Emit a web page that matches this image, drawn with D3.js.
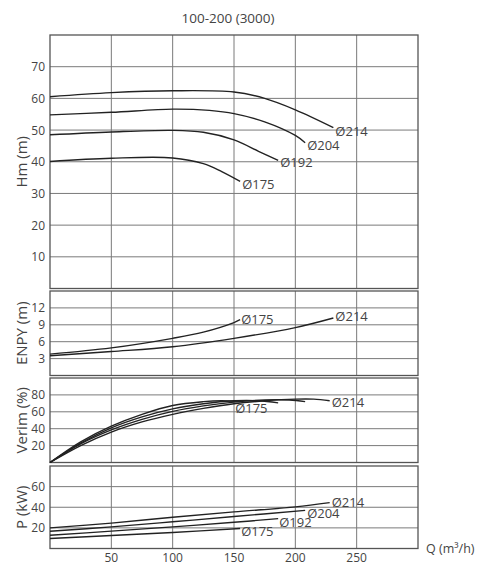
<!DOCTYPE html>
<html>
<head>
<meta charset="utf-8">
<script src="https://cdn.jsdelivr.net/npm/d3@7"></script>
<style>
    body { margin: 0; background: #fff; }
    text { font-family: "Open Sans", sans-serif; fill: #444; }
</style>
</head>
<body>
<div id="canvas"></div>
<script>
"use strict"

// flow axis
let qTicks = [50, 100, 150, 200, 250]

// head H (m) per impeller diameter, [Q, H]
let head214 = [[0, 60.5], [50, 61.8], [100, 62.4], [150, 62.0], [175, 60.0], [200, 56.4], [231, 50.8]]
let head204 = [[0, 54.8], [50, 55.6], [100, 56.6], [130, 56.2], [150, 55.2], [175, 52.6], [200, 48.3], [208, 46.0]]
let head192 = [[0, 48.5], [50, 49.4], [100, 49.9], [125, 49.3], [150, 46.9], [170, 43.3], [186, 40.4]]
let head175 = [[0, 40.1], [50, 41.1], [100, 41.2], [125, 39.4], [140, 36.9], [155, 33.8]]

// NPSH (m)
let enpy214 = [[0, 3.5], [50, 4.25], [100, 5.1], [150, 6.6], [200, 8.5], [231, 10.2]]
let enpy175 = [[0, 3.8], [50, 4.9], [100, 6.6], [125, 7.7], [150, 9.4], [155, 9.9]]

// efficiency (%)
let eff214 = [[0, 0], [25, 20], [50, 36], [75, 48], [100, 57], [125, 64], [150, 69.5], [175, 73], [200, 75], [215, 75], [228, 73]]
let eff204 = [[0, 0], [25, 22], [50, 38.5], [75, 51], [100, 60.5], [125, 67], [150, 71.5], [175, 74], [195, 74], [208, 72]]
let eff192 = [[0, 0], [25, 23], [50, 41], [75, 54], [100, 63.5], [125, 69.5], [150, 73], [170, 73], [186, 70.5]]
let eff175 = [[0, 0], [25, 24.5], [50, 43], [75, 57], [100, 67.5], [125, 72], [140, 73], [155, 72]]

// power (kW)
let pow214 = [[0, 20.0], [50, 24.6], [100, 30.3], [150, 35.5], [200, 40.4], [228, 44.5]]
let pow204 = [[0, 16.7], [50, 21.0], [100, 25.9], [150, 31.0], [208, 37.0]]
let pow192 = [[0, 12.9], [50, 16.8], [100, 21.0], [150, 25.4], [186, 29.0]]
let pow175 = [[0, 9.7], [50, 12.6], [100, 15.5], [155, 19.4]]

let headTicks = [10, 20, 30, 40, 50, 60, 70]
let enpyTicks = [3, 6, 9, 12]
let effTicks = [20, 40, 60, 80]
let powTicks = [20, 40, 60]

let panels = [
    { name: "Hm (m)", top: 35, bottom: 288.5, domain: [0, 80], ticks: headTicks,
      curves: [
          { d: head214, label: "214", dx: 2, dy: 8 },
          { d: head204, label: "204", dx: 2, dy: 7 },
          { d: head192, label: "192", dx: 2, dy: 7 },
          { d: head175, label: "175", dx: 2, dy: 8 }] },
    { name: "ENPY (m)", top: 291, bottom: 375.5, domain: [0, 15], ticks: enpyTicks,
      curves: [
          { d: enpy214, label: "214", dx: 2, dy: 3 },
          { d: enpy175, label: "175", dx: 1, dy: 4.5 }] },
    { name: "Verim (%)", top: 378, bottom: 462.5, domain: [0, 100], ticks: effTicks,
      curves: [
          { d: eff214, label: "214", dx: 2, dy: 6 },
          { d: eff204 },
          { d: eff192 },
          { d: eff175, label: "175", dx: -5, dy: 11 }] },
    { name: "P (kW)", top: 466, bottom: 548.5, domain: [0, 80], ticks: powTicks,
      curves: [
          { d: pow214, label: "214", dx: 2, dy: 4 },
          { d: pow204, label: "204", dx: 2, dy: 8 },
          { d: pow192, label: "192", dx: 1, dy: 8 },
          { d: pow175, label: "175", dx: 1, dy: 8 }] }
]

let svgWidth = 477
let svgHeight = 580

let svg = d3.select("#canvas")
    .append("svg")
    .attr("width", svgWidth)
    .attr("height", svgHeight)

let xScale = d3.scaleLinear()
    .domain([0, 300])
    .range([50, 418])

svg.append("text")
    .attr("x", 228)
    .attr("y", 23)
    .attr("text-anchor", "middle")
    .style("font-size", "13.5px")
    .text("100-200 (3000)")

panels.forEach(function (p) {
    let yScale = d3.scaleLinear()
        .domain(p.domain)
        .range([p.bottom, p.top])

    let g = svg.append("g")

    // horizontal grid
    g.selectAll("line.hgrid")
        .data(p.ticks)
        .join("line")
        .attr("x1", xScale(0))
        .attr("x2", xScale(300))
        .attr("y1", function (v) { return yScale(v) })
        .attr("y2", function (v) { return yScale(v) })
        .attr("stroke", "#7a7a7a")
        .attr("stroke-width", 1)

    // vertical grid
    g.selectAll("line.vgrid")
        .data(qTicks)
        .join("line")
        .attr("x1", function (q) { return xScale(q) })
        .attr("x2", function (q) { return xScale(q) })
        .attr("y1", p.top)
        .attr("y2", p.bottom)
        .attr("stroke", "#7a7a7a")
        .attr("stroke-width", 1)

    g.append("rect")
        .attr("x", xScale(0))
        .attr("y", p.top)
        .attr("width", xScale(300) - xScale(0))
        .attr("height", p.bottom - p.top)
        .attr("fill", "none")
        .attr("stroke", "#555")
        .attr("stroke-width", 1.3)

    // y tick labels
    g.selectAll("text.tick")
        .data(p.ticks)
        .join("text")
        .attr("x", 45)
        .attr("y", function (v) { return yScale(v) + 4.5 })
        .attr("text-anchor", "end")
        .style("font-size", "12px")
        .text(function (v) { return v })

    // axis title
    let mid = (p.top + p.bottom) / 2
    g.append("text")
        .attr("transform", `translate(27,${mid}) rotate(-90)`)
        .attr("text-anchor", "middle")
        .style("font-size", "15px")
        .text(p.name)

    let line = d3.line()
        .x(function (d) { return xScale(d[0]) })
        .y(function (d) { return yScale(d[1]) })
        .curve(d3.curveCatmullRom)

    g.selectAll("path.curve")
        .data(p.curves)
        .join("path")
        .attr("d", function (c) { return line(c.d) })
        .attr("fill", "none")
        .attr("stroke", "#222")
        .attr("stroke-width", 1.4)

    g.selectAll("text.dia")
        .data(p.curves.filter(function (c) { return c.label }))
        .join("text")
        .attr("x", function (c) { return xScale(c.d[c.d.length - 1][0]) + c.dx })
        .attr("y", function (c) { return yScale(c.d[c.d.length - 1][1]) + c.dy })
        .style("font-size", "13px")
        .text(function (c) { return "\u00D8" + c.label })
})

// x tick labels under the last panel
svg.selectAll("text.qtick")
    .data(qTicks)
    .join("text")
    .attr("x", function (q) { return xScale(q) })
    .attr("y", 562)
    .attr("text-anchor", "middle")
    .style("font-size", "12px")
    .text(function (q) { return q })

svg.append("text")
    .attr("x", 426)
    .attr("y", 553)
    .style("font-size", "12.5px")
    .text("Q (m\u00B3/h)")
</script>
</body>
</html>
